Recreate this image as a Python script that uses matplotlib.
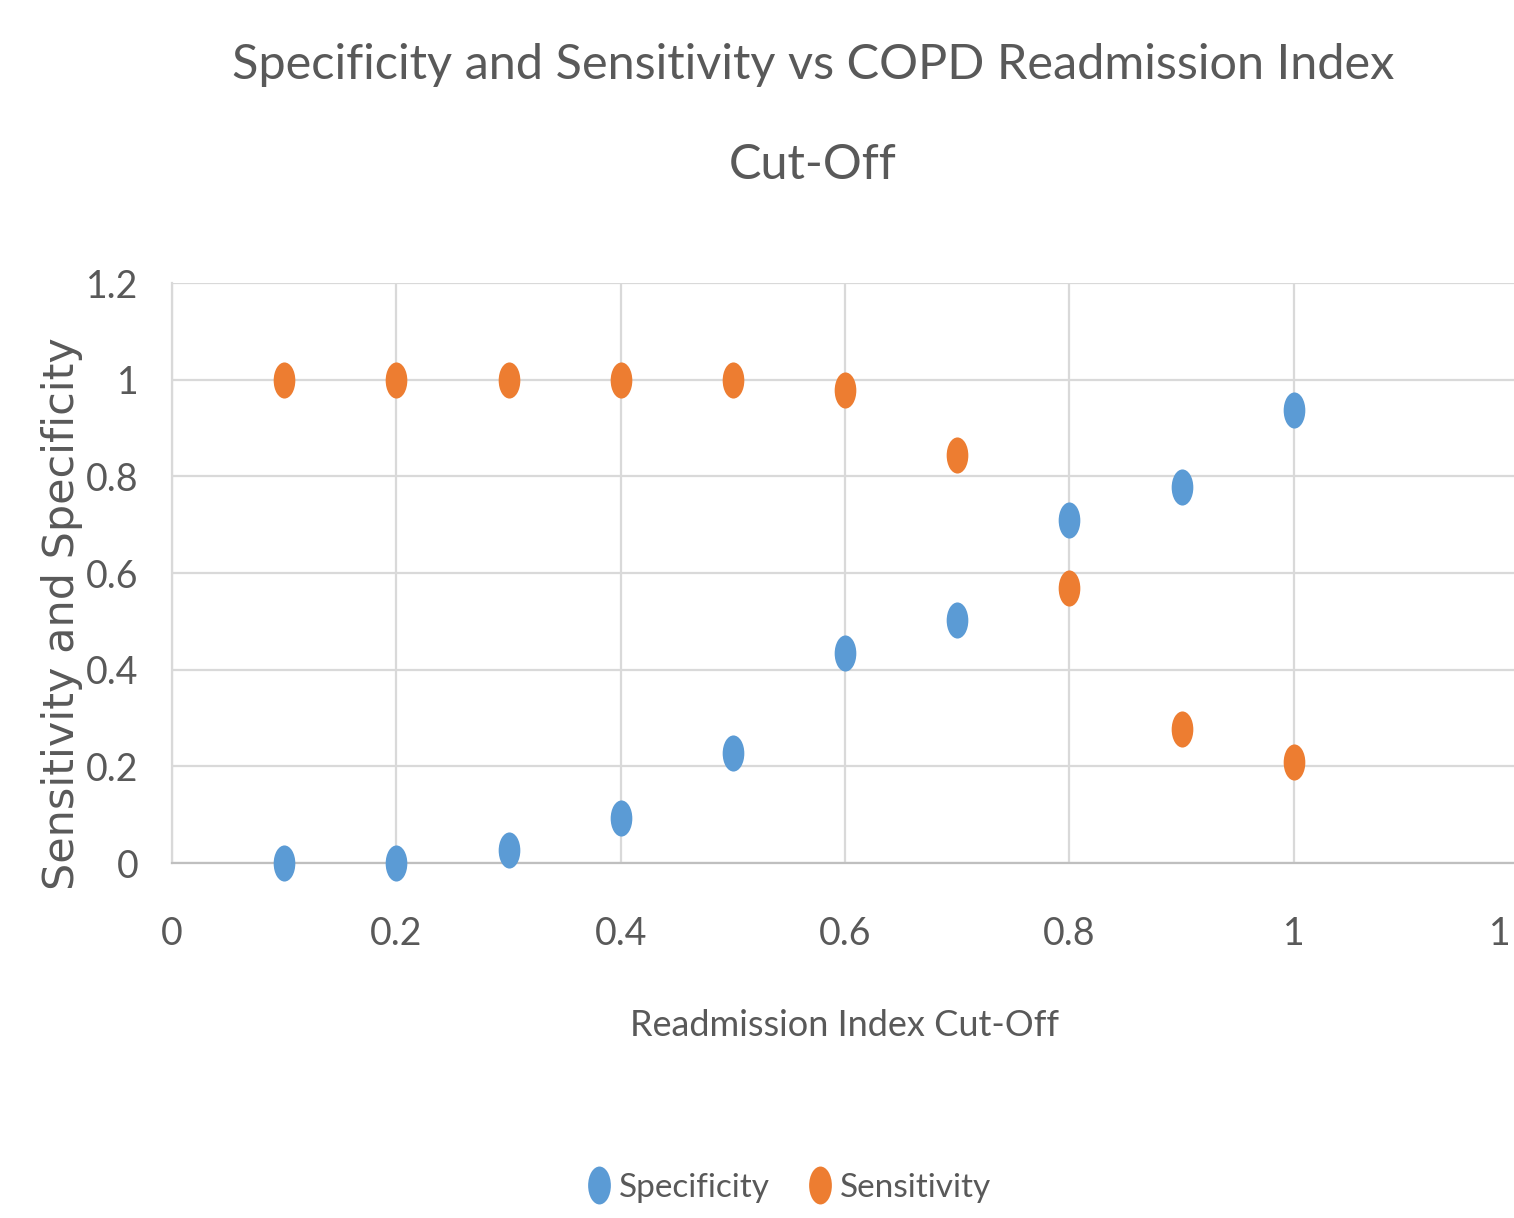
import matplotlib.pyplot as plt
from matplotlib.path import Path
from matplotlib.transforms import Affine2D

# data
cutoff = [0.1, 0.2, 0.3, 0.4, 0.5, 0.6, 0.7, 0.8, 0.9, 1.0]
specificity = [0.0, 0.0, 0.027, 0.093, 0.228, 0.434, 0.503, 0.71, 0.778, 0.937]
sensitivity = [1.0, 1.0, 1.0, 1.0, 1.0, 0.979, 0.844, 0.569, 0.277, 0.209]
xticks = [0, 0.2, 0.4, 0.6, 0.8, 1.0, 1.2]
xticklabels = ['0', '0.2', '0.4', '0.6', '0.8', '1', '1']
yticks = [0, 0.2, 0.4, 0.6, 0.8, 1.0, 1.2]
yticklabels = ['0', '0.2', '0.4', '0.6', '0.8', '1', '1.2']

BLUE = '#5B9BD5'
ORANGE = '#ED7D31'
TXT = '#595959'
GRID = '#D9D9D9'
FONT = ['Lato', 'DejaVu Sans']

ellipse = Path.unit_circle().transformed(Affine2D().scale(0.6, 1.0))

W, H = 1514, 1218
fig = plt.figure(figsize=(W / 100, H / 100), dpi=100)
ax = fig.add_axes([172 / W, 1 - 863 / H, (1518 - 172) / W, (863 - 283) / H])

ax.plot(cutoff, specificity, linestyle='none', marker=ellipse, markersize=26,
        color=BLUE, markeredgewidth=0, label='Specificity', clip_on=False, zorder=3)
ax.plot(cutoff, sensitivity, linestyle='none', marker=ellipse, markersize=26,
        color=ORANGE, markeredgewidth=0, label='Sensitivity', clip_on=False, zorder=3)

ax.set_xlim(0, 1.2)
ax.set_ylim(0, 1.2)
# the last x tick sits on the figure edge, so its label is placed by hand
ax.set_xticks(xticks[:-1])
ax.set_yticks(yticks)
ax.set_xticklabels(xticklabels[:-1], fontsize=27, color=TXT, family=FONT)
ax.set_yticklabels(yticklabels, fontsize=27, color=TXT, family=FONT)
ax.annotate(xticklabels[-1], xy=(xticks[-1], 0), xycoords=ax.get_xaxis_transform(),
            xytext=(-5, -38), textcoords='offset points', ha='right', va='top',
            fontsize=27, color=TXT, family=FONT)
ax.tick_params(axis='x', length=0, pad=38)
ax.tick_params(axis='y', length=0, pad=24)

ax.grid(True, color=GRID, linewidth=1.6)
ax.set_axisbelow(True)
for s in ['top', 'right']:
    ax.spines[s].set_visible(False)
ax.spines['left'].set_color(GRID)
ax.spines['left'].set_linewidth(1.6)
ax.spines['bottom'].set_color('#BFBFBF')
ax.spines['bottom'].set_linewidth(1.6)

fig.text(813 / W, 1 - 65 / H, 'Specificity and Sensitivity vs COPD Readmission Index',
         ha='center', va='center', fontsize=35, color=TXT, family=FONT)
fig.text(813 / W, 1 - 165 / H, 'Cut-Off',
         ha='center', va='center', fontsize=35, color=TXT, family=FONT)
fig.text(845 / W, 1 - 1025 / H, 'Readmission Index Cut-Off', ha='center',
         va='center', fontsize=26, color=TXT, family=FONT)
fig.text(62 / W, 1 - 614 / H, 'Sensitivity and Specificity', ha='center',
         va='center', rotation=90, fontsize=31, color=TXT, family='DejaVu Sans')

fig.legend(loc='center', bbox_to_anchor=(790 / W, 1 - 1188 / H), ncol=2,
           frameon=False, prop={'family': FONT, 'size': 24},
           labelcolor=TXT, handlelength=0.6, handletextpad=0.3,
           columnspacing=1.2, markerscale=1.05)

fig.savefig('out.png', dpi=100)
